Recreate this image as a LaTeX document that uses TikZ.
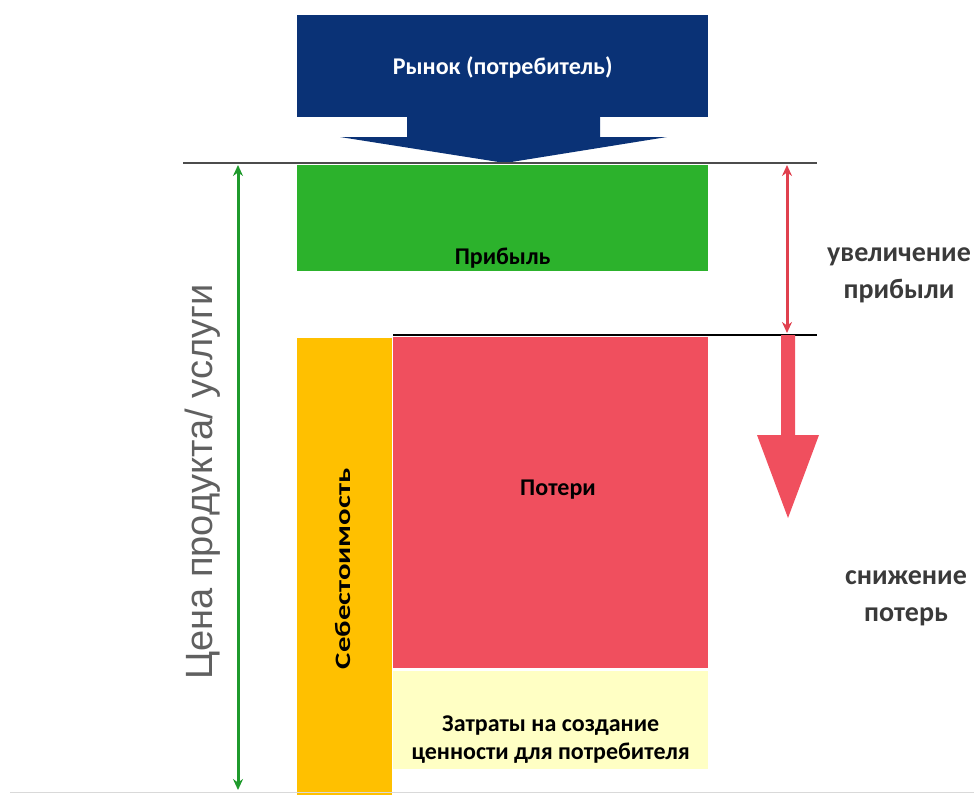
\documentclass[tikz,border=0pt]{standalone}
\usepackage{fontspec}
\setmainfont{Carlito}
\newfontfamily\thinsans{Liberation Sans}
\usetikzlibrary{shapes, positioning, calc, arrows.meta}

\definecolor{marketblue}{HTML}{0A3276}
\definecolor{profitgreen}{HTML}{2CB22C}
\definecolor{costorange}{HTML}{FFC000}
\definecolor{lossred}{HTML}{F04F5E}
\definecolor{valueyellow}{HTML}{FFFFC4}
\definecolor{pricegreen}{HTML}{1F9A2C}
\definecolor{arrowred}{HTML}{E0404E}
\definecolor{notegray}{HTML}{3A3A3A}

\tikzset{
  block/.style={inner sep=0pt, anchor=north west},
  blocktext/.style={font=\bfseries\fontsize{24}{28}\selectfont, align=center},
  notetext/.style={font=\bfseries\fontsize{28}{37}\selectfont, text=notegray, align=center},
  levelline/.style={line width=1.6pt},
  dimarrow/.style={line width=3pt, {Stealth[length=11pt,width=10pt]}-{Stealth[length=11pt,width=10pt]}},
}

\begin{document}
\begin{tikzpicture}[x=1pt, y=-1pt]
  \newcommand\blockwidth{411pt}
  \newcommand\innerwidth{315pt}
  \useasboundingbox (0,0) rectangle (974,795);

  % market (consumer) arrow
  \node[block, fill=marketblue, minimum width=\blockwidth, minimum height=102pt] at (297,15) (market) {};
  \node[blocktext, text=white] at ($(market.center)+(0,1)$) (marketlbl) {Рынок (потребитель)};
  \fill[marketblue] (407,117) -- (600,117) -- (600,137) -- (667,137) -- (505,163) -- (340,137) -- (407,137) -- cycle;

  % profit
  \node[block, fill=profitgreen, minimum width=\blockwidth, minimum height=106pt] at (297,165) (profit) {};
  \node[blocktext, anchor=base] at ($(profit.south)+(0,-7)$) (profitlbl) {Прибыль};

  % levels
  \coordinate (toplft) at (183,163);
  \coordinate (toprgt) at (817,163);
  \coordinate (lowlft) at (393,335);
  \coordinate (lowrgt) at (817,335);
  \draw[levelline, gray!60!black] (toplft) -- (toprgt);

  % cost price and its parts
  \node[block, fill=costorange, minimum width=95pt, minimum height=457pt] at (297,338) (cost) {};
  \node[blocktext, font=\bfseries\fontsize{22}{26}\selectfont, rotate=90] at ($(cost.center)+(-2,2)$) (costlbl) {\scalebox{1.4}[1]{Себестоимость}};
  \node[block, fill=lossred, minimum width=\innerwidth, minimum height=331pt] at (393,337) (losses) {};
  \node[blocktext] at (558,490) (losseslbl) {Потери};
  \node[block, fill=valueyellow, minimum width=\innerwidth, minimum height=98pt, below=2pt of losses] (value) {};
  \node[blocktext] at ($(value.center)+(0,20)$) (valuelbl) {Затраты на создание\\ценности для потребителя};
  \draw[levelline] (lowlft) -- (lowrgt);

  % price
  \coordinate (pricetop) at (238,165);
  \coordinate (pricebot) at (238,790);
  \draw[dimarrow, pricegreen] (pricetop) -- (pricebot);
  \node[font=\thinsans\fontsize{38}{42}\selectfont, text=gray!75!black, rotate=90] at (203,482) (pricelbl) {Цена продукта/ услуги};

  % profit gain
  \coordinate (gaintop) at (787,165);
  \coordinate (gainbot) at (787,333);
  \draw[dimarrow, arrowred] (gaintop) -- (gainbot);
  \node[notetext] at (899,275) (gainlbl) {увеличение\\прибыли};

  % loss cut
  \fill[lossred] (781,335) -- (795,335) -- (795,435) -- (819,435) -- (788,518) -- (757,435) -- (781,435) -- cycle;
  \node[notetext] at (906,598) (cutlbl) {снижение\\потерь};

  \draw[gray!30, line width=1pt] (10,792) -- (974,792);
\end{tikzpicture}
\end{document}
